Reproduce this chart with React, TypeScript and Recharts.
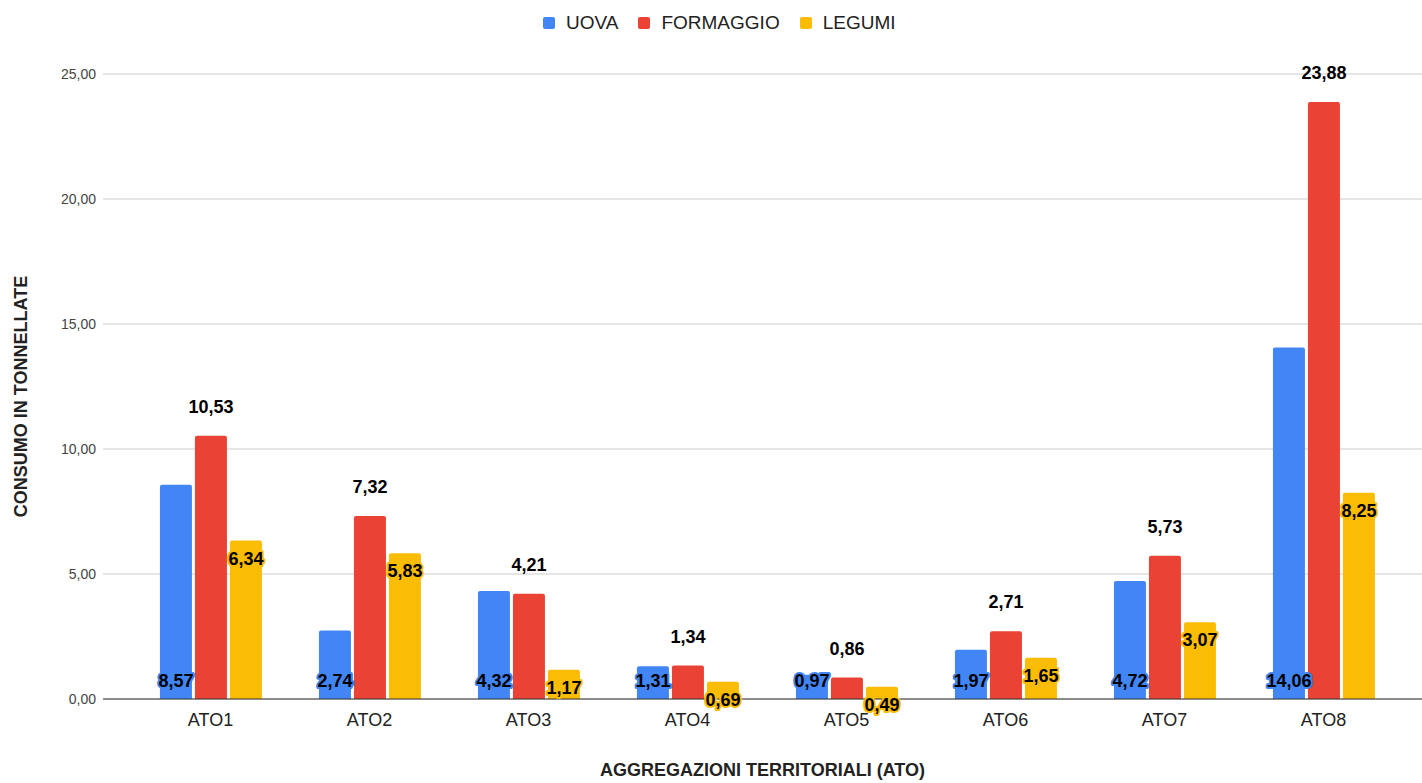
import { Bar, BarChart, CartesianGrid, LabelList, XAxis, YAxis } from "recharts"

const categories = ["ATO1", "ATO2", "ATO3", "ATO4", "ATO5", "ATO6", "ATO7", "ATO8"]
const uova = [8.57, 2.74, 4.32, 1.31, 0.97, 1.97, 4.72, 14.06]
const formaggio = [10.53, 7.32, 4.21, 1.34, 0.86, 2.71, 5.73, 23.88]
const legumi = [6.34, 5.83, 1.17, 0.69, 0.49, 1.65, 3.07, 8.25]
const yTicks = [0, 5, 10, 15, 20, 25]

const series = [
  { key: "uova", name: "UOVA", color: "#4285F4" },
  { key: "formaggio", name: "FORMAGGIO", color: "#EA4335" },
  { key: "legumi", name: "LEGUMI", color: "#FBBC04" },
]

const data = categories.map((ato, i) => ({
  ato,
  uova: uova[i],
  formaggio: formaggio[i],
  legumi: legumi[i],
}))

const FONT = "'Liberation Sans', Arial, sans-serif"
const fmt = (v: number) => Number(v).toFixed(2).replace(".", ",")

// label at the foot of the bar, with a halo in the bar colour
const baseLabel = (color: string) => (props: any) => {
  const x = Number(props.x), y = Number(props.y), w = Number(props.width), h = Number(props.height)
  return (
    <text x={x + w / 2} y={y + h - 18} textAnchor="middle" dominantBaseline="central"
      fontSize={18} fontWeight="bold" fontFamily={FONT} fill="#000"
      stroke={color} strokeWidth={4} strokeLinejoin="round" paintOrder="stroke">
      {fmt(props.value)}
    </text>
  )
}

const aboveLabel = (props: any) => {
  const x = Number(props.x), y = Number(props.y), w = Number(props.width)
  return (
    <text x={x + w / 2} y={y - 29} textAnchor="middle" dominantBaseline="central"
      fontSize={18} fontWeight="bold" fontFamily={FONT} fill="#000">
      {fmt(props.value)}
    </text>
  )
}

const topLabel = (color: string) => (props: any) => {
  const x = Number(props.x), y = Number(props.y), w = Number(props.width)
  return (
    <text x={x + w / 2} y={y + 18} textAnchor="middle" dominantBaseline="central"
      fontSize={18} fontWeight="bold" fontFamily={FONT} fill="#000"
      stroke={color} strokeWidth={4} strokeLinejoin="round" paintOrder="stroke">
      {fmt(props.value)}
    </text>
  )
}

const YTitle = (props: any) => {
  const vb = props.viewBox
  const cx = vb.x + 21
  const cy = vb.y + vb.height / 2 + 10
  return (
    <text x={cx} y={cy} transform={`rotate(-90, ${cx}, ${cy})`} textAnchor="middle"
      dominantBaseline="central" fontSize={18} fontWeight="bold" fontFamily={FONT} fill="#222">
      CONSUMO IN TONNELLATE
    </text>
  )
}

const XTitle = (props: any) => {
  const vb = props.viewBox
  return (
    <text x={vb.x + vb.width / 2} y={vb.y + 71} textAnchor="middle" dominantBaseline="central"
      fontSize={18} fontWeight="bold" fontFamily={FONT} fill="#222">
      AGGREGAZIONI TERRITORIALI (ATO)
    </text>
  )
}

export default function App() {
  return (
    <div style={{ position: "absolute", left: 0, top: 0, width: 1422, height: 783, background: "#fff", fontFamily: FONT }}>
      <div style={{ position: "absolute", top: 12, left: 543, display: "flex", alignItems: "center", fontSize: 19, color: "#222", lineHeight: "22px" }}>
        {series.map((s) => (
          <div key={s.key} style={{ display: "flex", alignItems: "center", marginRight: 20 }}>
            <span style={{ width: 12, height: 12, background: s.color, borderRadius: 2, marginRight: 11, display: "inline-block" }} />
            <span>{s.name}</span>
          </div>
        ))}
      </div>
      <BarChart width={1422} height={783} data={data} margin={{ top: 74, right: 0, bottom: 0, left: 0 }}
        barCategoryGap="18.2%" barGap={3}>
        <CartesianGrid vertical={false} stroke="#cccccc" />
        <XAxis dataKey="ato" height={84} padding={{ left: 28, right: 19 }} tickLine={false}
          axisLine={{ stroke: "#333" }} tickSize={0} tickMargin={14}
          tick={{ fontSize: 18, fill: "#222", fontFamily: FONT }} label={{ content: XTitle }} />
        <YAxis width={103} domain={[0, 25]} ticks={yTicks} tickFormatter={fmt} axisLine={false}
          tickLine={false} tickSize={0} tickMargin={7}
          tick={{ fontSize: 14, fill: "#444", fontFamily: FONT }} label={{ content: YTitle }} />
        <Bar dataKey="uova" name="UOVA" fill="#4285F4" radius={[2, 2, 0, 0]} isAnimationActive={false}>
          <LabelList dataKey="uova" content={baseLabel("#4285F4")} />
        </Bar>
        <Bar dataKey="formaggio" name="FORMAGGIO" fill="#EA4335" radius={[2, 2, 0, 0]} isAnimationActive={false}>
          <LabelList dataKey="formaggio" content={aboveLabel} />
        </Bar>
        <Bar dataKey="legumi" name="LEGUMI" fill="#FBBC04" radius={[2, 2, 0, 0]} isAnimationActive={false}>
          <LabelList dataKey="legumi" content={topLabel("#FBBC04")} />
        </Bar>
      </BarChart>
    </div>
  )
}
